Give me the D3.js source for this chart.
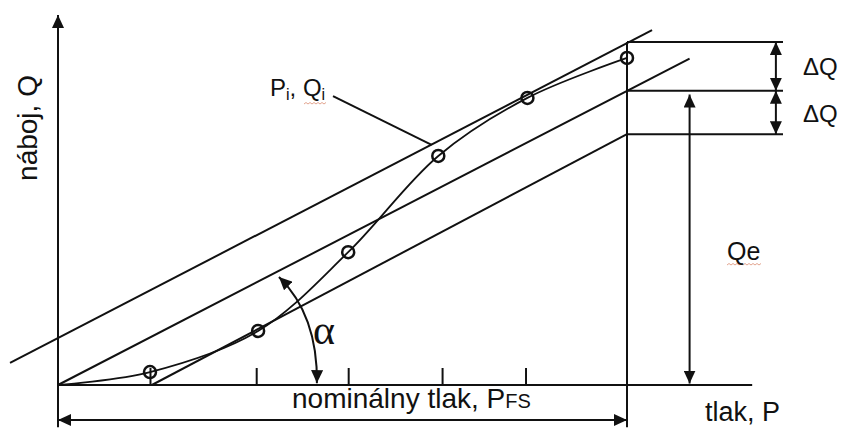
<!DOCTYPE html>
<html>
<head>
<meta charset="utf-8">
<script src="https://cdn.jsdelivr.net/npm/d3@7"></script>
<style>
  html, body { margin: 0; padding: 0; background: #fff; }
  svg { display: block; }
  text { font-family: "Liberation Sans", Arial, sans-serif; fill: #111; }
</style>
</head>
<body>
<svg id="chart" width="841" height="428"></svg>
<script>
// ---- data (chart units: P = pressure, Q = charge) ----
const pointP = [0.97, 2.11, 3.06, 4.01, 4.95, 6.0];
const pointQ = [3.5, 14.6, 35.9, 61.9, 77.6, 88.4];
const tickP = [0.97, 2.09, 3.06, 4.05, 4.93];
const lineNames = ["upper", "middle", "lower"];
const lineP0 = [-0.506, 0, 0.99];
const lineP1 = [6.264, 6.66, 6.0];
const lineQ0 = [5.95, 0, 0];
const lineQ1 = [95.9, 88.2, 67.8];
const levelQ = [92.7, 79.5, 67.8];       // Q levels at P_FS
const pFS = 6;
const pMaxAxis = 7.32;
const qMaxAxis = 100;
const deltaLabels = ["ΔQ", "ΔQ"];
const leaderP = [2.9, 3.94];
const leaderQ = [78.1, 64.9];
const alphaArcP = [2.33, 2.74, 2.73];
const alphaArcQ = [29.2, 18.9, 0.5];

const svg = d3.select("#chart");
const x = d3.scaleLinear().domain([0, 6]).range([58, 627]);
const y = d3.scaleLinear().domain([0, 100]).range([385, 15]);
const ink = "#111";
const sw = 2;

// arrow marker
const defs = svg.append("defs");
defs.append("marker")
  .attr("id", "arr").attr("viewBox", "0 0 13 12")
  .attr("refX", 13).attr("refY", 6)
  .attr("markerWidth", 13).attr("markerHeight", 12)
  .attr("markerUnits", "userSpaceOnUse")
  .attr("orient", "auto-start-reverse")
  .append("path").attr("d", "M0,0 L13,6 L0,12 Z").attr("fill", ink);

const g = svg.append("g").attr("stroke", ink).attr("stroke-width", sw).attr("fill", "none");

// x axis line
g.append("line").attr("x1", x(0)).attr("x2", x(pMaxAxis)).attr("y1", y(0)).attr("y2", y(0));
// y axis with arrow (extends below as extension line)
g.append("line").attr("x1", x(0)).attr("x2", x(0)).attr("y1", y(-11.4)).attr("y2", y(qMaxAxis))
  .attr("marker-end", "url(#arr)");
// vertical at P_FS
g.append("line").attr("x1", x(pFS)).attr("x2", x(pFS)).attr("y1", y(-11.4)).attr("y2", y(levelQ[0]));

// ticks via d3 axis
const axis = d3.axisBottom(x).tickValues(tickP).tickSize(-17).tickFormat("");
const ag = svg.append("g").attr("transform", `translate(0,${y(0)})`).call(axis);
ag.select(".domain").remove();
ag.selectAll(".tick line").attr("stroke", ink).attr("stroke-width", sw);

// straight lines
lineNames.forEach((n, i) => {
  g.append("line")
    .attr("x1", x(lineP0[i])).attr("y1", y(lineQ0[i]))
    .attr("x2", x(lineP1[i])).attr("y2", y(lineQ1[i]));
});

// horizontal levels at right
levelQ.forEach(q => {
  g.append("line").attr("x1", x(pFS)).attr("x2", x(7.645)).attr("y1", y(q)).attr("y2", y(q));
});

// ΔQ double arrows
for (let i = 0; i < 2; i++) {
  g.append("line").attr("x1", x(7.57)).attr("x2", x(7.57))
    .attr("y1", y(levelQ[i])).attr("y2", y(levelQ[i + 1]))
    .attr("marker-start", "url(#arr)").attr("marker-end", "url(#arr)");
}
// Qe double arrow
g.append("line").attr("x1", x(6.66)).attr("x2", x(6.66))
  .attr("y1", y(levelQ[1] - 1)).attr("y2", y(0.4))
  .attr("marker-start", "url(#arr)").attr("marker-end", "url(#arr)");

// dimension arrow (nominal pressure)
g.append("line").attr("x1", x(0)).attr("x2", x(pFS)).attr("y1", y(-9.46)).attr("y2", y(-9.46))
  .attr("marker-start", "url(#arr)").attr("marker-end", "url(#arr)");

// measured curve
const curvePts = [[0, 0]].concat(pointP.map((p, i) => [p, pointQ[i]]));
g.append("path")
  .attr("d", d3.line().x(d => x(d[0])).y(d => y(d[1])).curve(d3.curveCatmullRom.alpha(0.5))(curvePts))
  .attr("stroke-width", 1.8);

// points
svg.append("g").selectAll("circle").data(pointP).join("circle")
  .attr("cx", d => x(d)).attr("cy", (d, i) => y(pointQ[i])).attr("r", 6)
  .attr("fill", "none").attr("stroke", ink).attr("stroke-width", 2.5);

// leader line for Pi, Qi
g.append("line").attr("x1", x(leaderP[0])).attr("y1", y(leaderQ[0]))
  .attr("x2", x(leaderP[1])).attr("y2", y(leaderQ[1]));

// alpha arc
g.append("path")
  .attr("d", `M${x(alphaArcP[0])},${y(alphaArcQ[0])} Q${x(alphaArcP[1])},${y(alphaArcQ[1])} ${x(alphaArcP[2])},${y(alphaArcQ[2])}`)
  .attr("marker-start", "url(#arr)").attr("marker-end", "url(#arr)");

// spell-check squiggles
function squiggle(x0, x1, yy) {
  let d = `M${x0},${yy}`;
  let up = true;
  for (let xx = x0 + 2; xx <= x1; xx += 2) { d += ` L${xx},${yy + (up ? -1.5 : 0)}`; up = !up; }
  svg.append("path").attr("d", d).attr("fill", "none").attr("stroke", "#e3a58f").attr("stroke-width", 1);
}
squiggle(304, 326, 104);
squiggle(727, 762, 265);

// texts
svg.append("text").attr("transform", "translate(37,128) rotate(-90)")
  .attr("text-anchor", "middle").attr("font-size", 28).text("náboj, Q");

const nom = svg.append("text").attr("x", 292).attr("y", 408).attr("font-size", 28);
nom.append("tspan").text("nominálny tlak, P");
nom.append("tspan").attr("font-size", 20).text("FS");

svg.append("text").attr("x", 705).attr("y", 421).attr("font-size", 27).text("tlak, P");

deltaLabels.forEach((t, i) => {
  svg.append("text").attr("x", 803).attr("y", [75, 122][i]).attr("font-size", 24).text(t);
});

svg.append("text").attr("x", 727).attr("y", 260).attr("font-size", 25).text("Qe");

const pq = svg.append("text").attr("x", 270).attr("y", 96).attr("font-size", 24);
pq.append("tspan").text("P");
pq.append("tspan").attr("font-size", 16).attr("dy", 4).text("i");
pq.append("tspan").attr("dy", -4).text(", Q");
pq.append("tspan").attr("font-size", 16).attr("dy", 4).text("i");

svg.append("text").attr("x", 313).attr("y", 344).attr("font-size", 42)
  .style("font-family", "'Liberation Serif', 'DejaVu Serif', serif").text("α");
</script>
</body>
</html>
